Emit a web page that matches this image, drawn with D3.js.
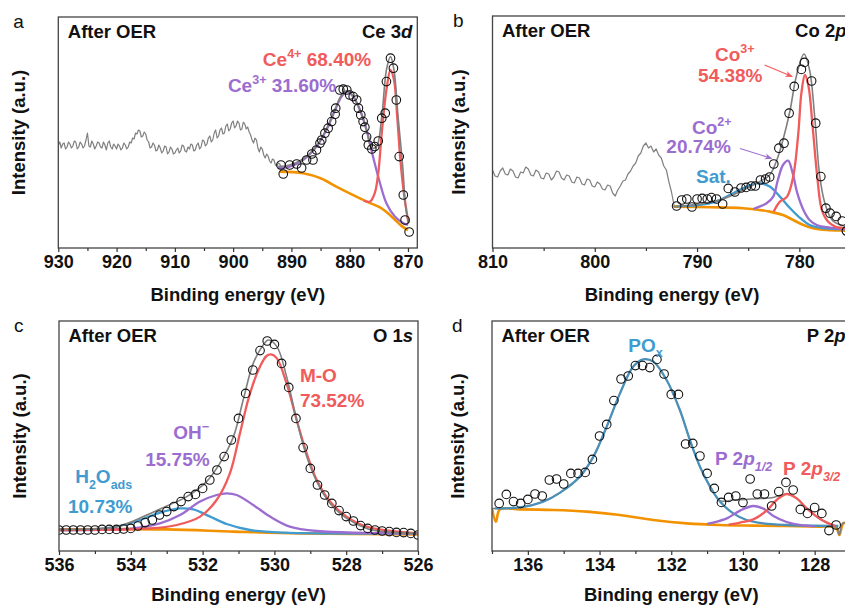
<!DOCTYPE html>
<html>
<head>
<meta charset="utf-8">
<script src="https://cdn.jsdelivr.net/npm/d3@7"></script>
<style>
  body { margin: 0; background: #fff; }
  svg { display: block; font-family: "Liberation Sans", Arial, sans-serif; }
</style>
</head>
<body>
<svg id="chart" width="845" height="605"></svg>
<script>
// ---- data: [binding energy (eV), intensity (a.u.)] ----

// (a) Ce 3d
var aTicks = [930, 920, 910, 900, 890, 880, 870];
var aMinor = [925, 915, 905, 895, 885, 875];
var aRaw = [[930,51.5],[929.75,53],[929.5,50],[929.25,52],[929,52.5],[928.75,49.5],[928.5,50.5],[928.25,53],[928,52],[927.75,50],[927.5,51],[927.25,53.5],[927,53],[926.75,49.5],[926.5,50.5],[926.25,53],[926,52],[925.75,50],[925.5,51],[925.25,54],[925,57.5],[924.75,51],[924.5,50.5],[924.25,53.5],[924,52],[923.75,49.5],[923.5,51],[923.25,53],[923,52.5],[922.75,50.5],[922.5,50],[922.25,53],[922,51.5],[921.75,49],[921.5,52.5],[921.25,53.5],[921,50.5],[920.75,49.5],[920.5,52],[920.25,51],[920,49.5],[919.75,52],[919.5,51],[919.25,49],[919,50],[918.75,52.5],[918.5,51.5],[918.25,49.5],[918,50.5],[917.75,53],[917.5,52.5],[917.25,55],[917,54.5],[916.75,57.5],[916.5,57],[916.25,59],[916,58.5],[915.75,55.5],[915.5,56],[915.25,58],[915,57],[914.75,54],[914.5,53],[914.25,50],[914,50.5],[913.75,52.5],[913.5,51.5],[913.25,48.5],[913,49],[912.75,51.5],[912.5,50],[912.25,47.5],[912,48.5],[911.75,51],[911.5,50.5],[911.25,47],[911,48],[910.75,50.5],[910.5,49.5],[910.25,47],[910,47.5],[909.75,49],[909.5,50],[909.25,47.5],[909,48.5],[908.75,51.5],[908.5,51],[908.25,48.5],[908,48],[907.75,50.5],[907.5,49.5],[907.25,52],[907,51.5],[906.75,48.5],[906.5,49],[906.25,51.5],[906,52.5],[905.75,49.5],[905.5,50.5],[905.25,54],[905,53.5],[904.75,51],[904.5,52],[904.25,55],[904,56],[903.75,53],[903.5,54],[903.25,57.5],[903,59],[902.75,55],[902.5,56],[902.25,59],[902,60],[901.75,57],[901.5,57.5],[901.25,61],[901,62],[900.75,58.5],[900.5,59.5],[900.25,62.5],[900,63.5],[899.75,60],[899.5,61],[899.25,63.5],[899,62.5],[898.75,59],[898.5,59.5],[898.25,63],[898,62],[897.75,59.5],[897.5,60.5],[897.25,58],[897,56.5],[896.75,54],[896.5,52.5],[896.25,55],[896,54],[895.75,50],[895.5,48],[895.25,50.5],[895,49.5],[894.75,46.5],[894.5,45],[894.25,47],[894,46],[893.75,43.5],[893.5,42.5],[893.25,44.5],[893,44],[892.75,41.5],[892.5,41],[892.25,42.5],[892,42],[891.75,40],[891.6,39.5]];
var aDots = [[891.8,41.5],[891.4,37],[890.3,41.5],[889.1,42],[888.25,40],[887.4,44],[886.5,47],[886.3,44],[885.7,49],[885.1,52.4],[884.8,54],[884.25,57.4],[883.7,59.9],[883.1,63.2],[882.5,66.9],[882.4,69.9],[881.7,79],[881.1,79.4],[880.5,79],[880,76.5],[879.4,75.7],[878.8,74],[878.5,69.9],[878.1,66.5],[877.7,63.2],[877.4,60.4],[877.1,55.5],[876.8,51.5],[876.2,49.5],[875.7,50.7],[875.1,53.5],[874.5,64.9],[873.9,67.4],[873.7,83.2],[873,94.9],[872.5,89.9],[872,74],[871.5,45.7],[870.8,26.5],[870.5,14],[869.8,8]];
var aEnv = [[892.3,40.7],[890.3,41.5],[888,44.5],[885.7,51],[884,59.5],[882.5,69.5],[881.4,76.5],[880.4,78.7],[879.4,76],[878.25,69.5],[877.1,59],[876.25,50],[875.4,50.7],[874.5,65.7],[873.7,89],[873,95.7],[872.4,89],[871.7,65.7],[870.9,40.7],[870.4,20.7],[869.9,12.4]];
var aCe4 = [[877.6,23.8],[877.1,23.2],[876.5,23.2],[875.7,27.4],[875.1,37.4],[874.5,57.4],[873.7,79],[873,89],[872.4,84],[871.85,65.7],[871.3,44],[870.7,27.4],[870.1,15.7],[869.9,12.4]];
var aCe3 = [[892.3,39.9],[890.3,40.7],[888,44],[885.7,50.7],[884,59],[882.5,69],[881.4,75.7],[880.4,78.2],[879.4,75.7],[878.25,69],[877.1,59],[876,45.7],[874.8,32.4],[873.7,22.4],[872.25,15.7],[870.8,12.4],[870,11.5]];
var aBg = [[892,38.2],[888,37.4],[885,34.9],[882.3,30.7],[880,27.3],[877.1,23.2],[874.8,20.3],[873.1,16.5],[872,13.5],[871,10.8],[870,9]];

// (b) Co 2p
var bTicks = [810, 800, 790, 780];
var bMinor = [805, 795, 785, 775];
var bRaw = [[810,39],[809.75,36],[809.5,35.5],[809.25,38.5],[809,40],[808.75,37],[808.5,36.5],[808.25,39.5],[808,38.5],[807.75,35.5],[807.5,35],[807.25,38],[807,37.5],[806.75,40.5],[806.5,39.5],[806.25,36.5],[806,36],[805.75,39],[805.5,38],[805.25,35],[805,34.5],[804.75,37.5],[804.5,37],[804.25,34],[804,35.5],[803.75,38.5],[803.5,38],[803.25,35],[803,34],[802.75,36.5],[802.5,36],[802.25,33],[802,32.5],[801.75,35.5],[801.5,35],[801.25,32],[801,31.5],[800.75,34.5],[800.5,34],[800.25,31],[800,30.5],[799.75,33],[799.5,32],[799.25,29.5],[799,29],[798.75,31.5],[798.5,31],[798.25,27.5],[798,26],[797.75,29],[797.5,31],[797.25,33.5],[797,34],[796.75,37],[796.5,38.5],[796.25,41],[796,42.5],[795.75,46],[795.5,47.5],[795.25,51],[795,52.5],[794.75,50],[794.5,51],[794.25,48],[794,49.5],[793.75,46.5],[793.5,45],[793.25,41],[793,39],[792.75,33],[792.5,28],[792.2,20]];
var bDots = [[792,21],[791.5,24],[791,24.5],[790.5,20.5],[790,24.5],[789.5,24.8],[789,24.5],[788.6,25.2],[788.1,24.5],[787.5,22],[786.95,29.8],[786.3,28],[785.7,30],[785.2,30.3],[784.7,31],[784.3,31],[783.8,34],[783.3,34.5],[782.9,35.5],[782.5,42],[782,49.9],[781.5,52.4],[781,67.4],[780.5,80.8],[779.8,89.3],[779.5,92.8],[778.8,83.5],[778.4,62.4],[777.9,35.7],[777.4,19.9],[777,17.4],[776.4,15.8],[775.8,13.5],[775.4,8.5]];
var bEnv = [[792.3,20.7],[790.4,21.5],[787.8,24],[785.8,28.2],[784.2,32.4],[782.9,36.5],[782.2,44],[781.6,54],[780.9,69],[780.3,85.7],[779.55,97],[779,89],[778.5,65.7],[778,35.7],[777.5,22.4],[776.8,14],[776,11.5],[775.5,11],[775,10.8]];
var bCo3 = [[782.5,18.3],[781.9,23.2],[781.2,25.7],[780.6,35.7],[780.1,57.4],[779.8,77.4],[779.45,86.5],[779.1,80.7],[778.7,60.7],[778.25,35.7],[777.8,19],[777.2,13.2],[776.5,10.7],[775.5,9.9],[775,9.8]];
var bCo2 = [[784.5,19.5],[783.9,20.7],[783.2,22.4],[782.55,25.7],[782.1,34],[781.6,41.5],[781.1,43.7],[780.65,37.4],[780.2,27.4],[779.6,19],[779,14],[778.3,11.5],[777.3,10.4],[776,9.6],[775,9.4]];
var bSat = [[792,20.7],[788.7,22.4],[787.1,25.7],[785.5,29.9],[783.9,32.4],[782.9,30.7],[781.9,25.7],[780.9,19.9],[779.9,14.9],[779,11.5],[777.7,9.9],[776,9.4],[775,9.2]];
var bBg = [[792.3,20.7],[788.7,20.4],[785.5,19.9],[782.9,18.2],[781.6,16.5],[780.6,14],[779.6,11.5],[778.65,9.9],[777.3,9],[775.5,8.7],[775,8.6]];

// (c) O 1s
var cTicks = [536, 534, 532, 530, 528, 526];
var cMinor = [535, 533, 531, 529, 527];
var cDots = [[536,10.5],[535.8,10.5],[535.6,10.5],[535.4,10.5],[535.2,10.5],[535,10.5],[534.8,10.8],[534.6,10.8],[534.4,10.8],[534.2,11],[534,11.3],[533.8,12.5],[533.6,14.2],[533.4,15.5],[533.2,18],[533,19.7],[532.8,22.2],[532.6,24.7],[532.4,27.2],[532.2,28.3],[532,31.3],[531.8,35.5],[531.6,40.5],[531.4,47.2],[531.2,55.5],[531,66.3],[530.8,78.8],[530.6,90.5],[530.4,100.2],[530.2,105],[530,103.3],[529.8,93.8],[529.6,81.8],[529.4,66.3],[529.2,51.7],[529,41.3],[528.8,33],[528.6,28],[528.4,23.8],[528.2,20.2],[528,17.2],[527.8,15],[527.6,12.7],[527.4,11.3],[527.2,10.5],[527,10],[526.8,9.7],[526.6,9.3],[526.4,9.2],[526.2,8.8],[526,8]];
var cEnv = [[536,10.8],[534.39,12.2],[533.65,17.2],[533,22.5],[532.44,27.2],[531.89,34.7],[531.52,43.8],[531.14,57.2],[530.87,75.5],[530.59,93.8],[530.31,103],[530.17,105.5],[529.93,102.2],[529.66,87.2],[529.38,65.5],[529.1,47.2],[528.82,34.7],[528.45,23.8],[527.99,16.3],[527.43,11.3],[526.97,9.7],[526,8.8]];
var cMO = [[536,10.5],[533.47,11.3],[532.72,13],[532.07,17.2],[531.61,25.5],[531.24,38.8],[530.96,58.8],[530.68,78.8],[530.4,92.2],[530.22,97.5],[530.09,98.3],[529.93,96.3],[529.66,83.8],[529.38,65.5],[529.1,48.8],[528.82,35.5],[528.45,24.7],[527.99,17.2],[527.43,12.2],[526,8.8]];
var cOH = [[536,10.5],[533.93,11.3],[533.19,13.8],[532.63,18],[532.07,24.7],[531.61,28],[531.33,28.8],[531.05,28],[530.59,23],[530.12,17.2],[529.57,12.2],[528.82,10],[526,8.8]];
var cH2O = [[536,10.5],[535.04,10.8],[534.39,12.2],[533.74,15.5],[533.19,19.2],[532.63,21.3],[532.26,20.8],[531.79,17.2],[531.33,13.5],[530.68,10.5],[529.75,9.2],[526,8.8]];
var cBg = [[536,10.8],[533,10.8],[531.14,9.7],[529.29,8.8],[526,8.3]];

// (d) P 2p
var dTicks = [136, 134, 132, 130, 128];
var dMinor = [137, 135, 133, 131, 129, 127];
var dDots = [[136.8,23.8],[136.6,28.3],[136.4,24.7],[136.2,23.8],[136,25.8],[135.8,28.5],[135.6,27.5],[135.4,35.5],[135.2,36],[135,33.5],[134.8,38.8],[134.6,38.8],[134.4,39.3],[134.2,45.8],[134,57.5],[133.8,63.3],[133.6,75.2],[133.4,86],[133.2,87.5],[133,92.7],[132.8,92.7],[132.6,91.7],[132.4,95.8],[132.2,88.5],[132,78.3],[131.8,78.3],[131.6,53.5],[131.4,53.8],[131.2,47.5],[131,38.8],[130.8,31.3],[130.6,24.3],[130.4,26.8],[130.2,27.5],[130,24.2],[129.8,36],[129.6,28.5],[129.4,28.5],[129.2,22.5],[129,29.7],[128.8,34.3],[128.6,30.5],[128.4,20.8],[128.2,18.8],[128,21.7],[127.8,18.8],[127.6,10.2],[127.4,13]];
var dEnv = [[137,21.3],[136.22,21.8],[135.57,24.7],[135.1,29.2],[134.55,37.2],[134.17,47.2],[133.8,62.2],[133.43,78.8],[133.06,92.2],[132.78,95.8],[132.5,94.7],[132.13,85.5],[131.76,70.5],[131.48,55.5],[131.2,42.2],[130.92,32.5],[130.64,25.2],[130.27,25.5],[129.9,25.8],[129.52,26.2],[129.15,26.8],[128.78,28.5],[128.5,26.3],[128.22,21.3],[127.85,15.8],[127.57,13.5],[127.39,12.2],[127.31,8],[127.22,13.8],[127,14]];
var dPOx = [[136.92,21.3],[136.22,21.8],[135.57,24.7],[135.1,29.2],[134.55,37.2],[134.17,47.2],[133.8,62.2],[133.43,78.8],[133.06,92.2],[132.78,95.8],[132.5,94.7],[132.13,85.5],[131.76,70.5],[131.48,55.5],[131.2,42.2],[130.92,32.2],[130.64,24.7],[130.27,18.8],[129.9,15.5],[129.43,13.8],[128.78,13],[127.34,12.5]];
var dP12 = [[131,13.6],[130.83,14.2],[130.45,16.3],[130.08,20.2],[129.71,22.5],[129.43,21.2],[129.15,17.5],[128.78,14.5],[128.32,12.8],[128,12.3]];
var dP32 = [[130.4,13.2],[130.08,14.2],[129.71,15.8],[129.34,20.2],[129.06,25.5],[128.78,28.5],[128.5,26.3],[128.22,21.3],[127.94,17.2],[127.66,14.2],[127.43,12.5]];
var dBg = [[137,21.3],[136.89,14.7],[136.78,20.8],[136.22,20.8],[135.29,20.5],[134.36,19.7],[133.43,18],[132.5,15.5],[131.57,13.8],[130.64,13],[129.71,12.7],[128.78,12.5],[127.85,12.2],[127.48,12.2],[127.39,11.5],[127.31,8],[127.2,13.8],[127,14]];

// ---- styling ----
var RED = "#f05b5b", PURPLE = "#9c6dd0", BLUE = "#3f9bd0", ORANGE = "#f39200", GRAY = "#808080", STEEL = "#4b90b8";
var FONT = "Liberation Sans, Arial, sans-serif";

var svg = d3.select("#chart");

// text with super/subscripts: parts = [[text, kind]], kind in sup/sub/it/subit
function richText(g, x, y, parts, size, color, anchor) {
  var t = g.append("text")
    .attr("x", x).attr("y", y)
    .attr("font-size", size)
    .attr("font-weight", "bold")
    .attr("fill", color)
    .attr("text-anchor", anchor || "start");
  var shift = 0;
  parts.forEach(function (p) {
    var kind = p[1] || "";
    var want = kind === "sup" ? -size * 0.42 : (kind === "sub" || kind === "subit") ? size * 0.3 : 0;
    var ts = t.append("tspan").text(p[0]).attr("dy", want - shift);
    shift = want;
    if (kind === "sup" || kind === "sub" || kind === "subit") ts.attr("font-size", size * 0.66);
    if (kind === "it" || kind === "subit") ts.attr("font-style", "italic");
  });
  return t;
}

var panels = [
  { letter: "a", letterDx: -45, ytDx: -33, xtDy: 52.5, left: 58.3, top: 17, width: 359, height: 231,
    xDomain: [930, 868.4], yMax: 115.5, ticks: aTicks, minor: aMinor,
    title: [["Ce 3"], ["d", "it"]],
    raw: aRaw, bg: aBg,
    comps: [{ d: aCe3, c: PURPLE }, { d: aCe4, c: RED }],
    env: aEnv, dots: aDots,
    labels: [
      { E: 894.9, v: 91, c: RED, parts: [["Ce"], ["4+", "sup"], [" 68.40%"]] },
      { E: 900.9, v: 78, c: PURPLE, parts: [["Ce"], ["3+", "sup"], [" 31.60%"]] }
    ],
    arrows: [] },
  { letter: "b", letterDx: -39.5, ytDx: -28, xtDy: 52.5, left: 492.5, top: 16, width: 359, height: 232,
    xDomain: [810, 774.9], yMax: 116, ticks: bTicks, minor: bMinor,
    title: [["Co 2"], ["p", "it"]],
    raw: bRaw, bg: bBg,
    comps: [{ d: bSat, c: BLUE }, { d: bCo2, c: PURPLE }, { d: bCo3, c: RED }],
    env: bEnv, dots: bDots,
    labels: [
      { E: 788.25, v: 93.5, c: RED, parts: [["Co"], ["3+", "sup"]] },
      { E: 789.9, v: 83, c: RED, parts: [["54.38%"]] },
      { E: 790.5, v: 56.8, c: PURPLE, parts: [["Co"], ["2+", "sup"]] },
      { E: 793.0, v: 47.3, c: PURPLE, parts: [["20.74%"]] },
      { E: 790.1, v: 32.6, c: BLUE, parts: [["Sat."]] }
    ],
    arrows: [
      { from: [783.4, 91.5], to: [780.7, 85.7], c: RED },
      { from: [785.8, 49.8], to: [782.7, 44.8], c: PURPLE }
    ] },
  { letter: "c", letterDx: -45, ytDx: -33, xtDy: 49.5, left: 59, top: 321, width: 359, height: 230,
    xDomain: [536, 526], yMax: 115, ticks: cTicks, minor: cMinor,
    title: [["O 1"], ["s", "it"]],
    raw: null, bg: cBg,
    comps: [{ d: cH2O, c: BLUE }, { d: cOH, c: PURPLE }, { d: cMO, c: RED }],
    env: cEnv, dots: cDots,
    labels: [
      { E: 529.29, v: 84.7, c: RED, parts: [["M-O"]] },
      { E: 529.29, v: 72.2, c: RED, parts: [["73.52%"]] },
      { E: 532.82, v: 56, c: PURPLE, parts: [["OH"], ["\u2212", "sup"]] },
      { E: 533.6, v: 42.5, c: PURPLE, parts: [["15.75%"]] },
      { E: 535.55, v: 34, c: BLUE, parts: [["H"], ["2", "sub"], ["O"], ["ads", "sub"]] },
      { E: 535.75, v: 19.2, c: BLUE, parts: [["10.73%"]] }
    ],
    arrows: [] },
  { letter: "d", letterDx: -40, ytDx: -28, xtDy: 49.5, left: 492, top: 321, width: 358.5, height: 230,
    xDomain: [137, 127], yMax: 115, ticks: dTicks, minor: dMinor,
    title: [["P 2"], ["p", "it"]],
    raw: null, bg: dBg,
    comps: [{ d: dEnv, c: GRAY, w: 1.5 }, { d: dPOx, c: STEEL }, { d: dP12, c: PURPLE }, { d: dP32, c: RED }],
    env: null, dots: dDots,
    labels: [
      { E: 133.2, v: 99.7, c: BLUE, parts: [["PO"], ["x", "sub"]] },
      { E: 130.78, v: 43, c: PURPLE, parts: [["P 2"], ["p", "it"], ["1/2", "subit"]] },
      { E: 128.88, v: 38, c: RED, parts: [["P 2"], ["p", "it"], ["3/2", "subit"]] }
    ],
    arrows: [] }
];

var defs = svg.append("defs");
[RED, PURPLE].forEach(function (c, i) {
  defs.append("marker")
    .attr("id", "arr" + i)
    .attr("viewBox", "0 0 10 10")
    .attr("refX", 9).attr("refY", 5)
    .attr("markerWidth", 7).attr("markerHeight", 7)
    .attr("orient", "auto")
    .append("path").attr("d", "M0,1 L10,5 L0,9 L3,5 Z").attr("fill", c);
});

panels.forEach(function (p) {
  var g = svg.append("g").attr("transform", "translate(" + p.left + "," + p.top + ")");
  var x = d3.scaleLinear().domain(p.xDomain).range([0, p.width]);
  var y = d3.scaleLinear().domain([0, p.yMax]).range([p.height, 0]);

  var smooth = d3.line()
    .x(function (d) { return x(d[0]); })
    .y(function (d) { return y(d[1]); })
    .curve(d3.curveCatmullRom.alpha(0.5));
  var straight = d3.line()
    .x(function (d) { return x(d[0]); })
    .y(function (d) { return y(d[1]); });

  g.append("clipPath").attr("id", "clip" + p.letter)
    .append("rect").attr("width", p.width).attr("height", p.height);
  var plot = g.append("g").attr("clip-path", "url(#clip" + p.letter + ")");

  if (p.raw) {
    plot.append("path").datum(p.raw)
      .attr("fill", "none").attr("stroke", GRAY).attr("stroke-width", 1.2)
      .attr("stroke-linejoin", "round")
      .attr("d", straight);
  }
  plot.append("path").datum(p.bg)
    .attr("fill", "none").attr("stroke", ORANGE).attr("stroke-width", 2.6)
    .attr("d", smooth);
  p.comps.forEach(function (c) {
    plot.append("path").datum(c.d)
      .attr("fill", "none").attr("stroke", c.c).attr("stroke-width", c.w || 2.3)
      .attr("d", smooth);
  });
  if (p.env) {
    plot.append("path").datum(p.env)
      .attr("fill", "none").attr("stroke", GRAY).attr("stroke-width", 1.6)
      .attr("d", smooth);
  }
  plot.selectAll(".dot").data(p.dots).enter().append("circle")
    .attr("class", "dot")
    .attr("cx", function (d) { return x(d[0]); })
    .attr("cy", function (d) { return y(d[1]); })
    .attr("r", 4.3)
    .attr("fill", "none")
    .attr("stroke", "#111")
    .attr("stroke-width", 1.1);

  // frame
  g.append("rect").attr("width", p.width).attr("height", p.height)
    .attr("fill", "none").attr("stroke", "#444").attr("stroke-width", 1.3);

  // x axis
  var ax = g.append("g").attr("transform", "translate(0," + p.height + ")")
    .call(d3.axisBottom(x).tickValues(p.ticks).tickSize(4).tickPadding(3).tickFormat(d3.format("d")));
  ax.select(".domain").remove();
  ax.selectAll("line").attr("stroke", "#333").attr("stroke-width", 1.2);
  ax.selectAll("text").attr("font-size", 18).attr("font-weight", "bold")
    .attr("font-family", FONT).attr("fill", "#111");
  var mx = g.append("g").attr("transform", "translate(0," + p.height + ")")
    .call(d3.axisBottom(x).tickValues(p.minor).tickSize(3).tickFormat(""));
  mx.select(".domain").remove();
  mx.selectAll("line").attr("stroke", "#333").attr("stroke-width", 1.2);

  // axis titles
  g.append("text")
    .attr("x", p.width / 2).attr("y", p.height + p.xtDy)
    .attr("text-anchor", "middle")
    .attr("font-size", 18.5).attr("font-weight", "bold").attr("fill", "#111")
    .text("Binding energy (eV)");
  g.append("text")
    .attr("transform", "translate(" + p.ytDx + "," + (p.height / 2) + ") rotate(-90)")
    .attr("text-anchor", "middle")
    .attr("font-size", 18.5).attr("font-weight", "bold").attr("fill", "#111")
    .text("Intensity (a.u.)");

  // panel letter and titles
  g.append("text")
    .attr("x", p.letterDx).attr("y", 11)
    .attr("font-size", 19).attr("fill", "#111")
    .text(p.letter);
  g.append("text")
    .attr("x", 9.5).attr("y", 21)
    .attr("font-size", 18.5).attr("font-weight", "bold").attr("fill", "#111")
    .text("After OER");
  richText(g, p.width - 5, 21, p.title, 18.5, "#111", "end");

  // annotations
  p.labels.forEach(function (l) {
    richText(g, x(l.E), y(l.v), l.parts, 19, l.c, "start");
  });
  p.arrows.forEach(function (a) {
    g.append("line")
      .attr("x1", x(a.from[0])).attr("y1", y(a.from[1]))
      .attr("x2", x(a.to[0])).attr("y2", y(a.to[1]))
      .attr("stroke", a.c).attr("stroke-width", 1.1)
      .attr("marker-end", "url(#arr" + (a.c === RED ? 0 : 1) + ")");
  });
});
</script>
</body>
</html>
